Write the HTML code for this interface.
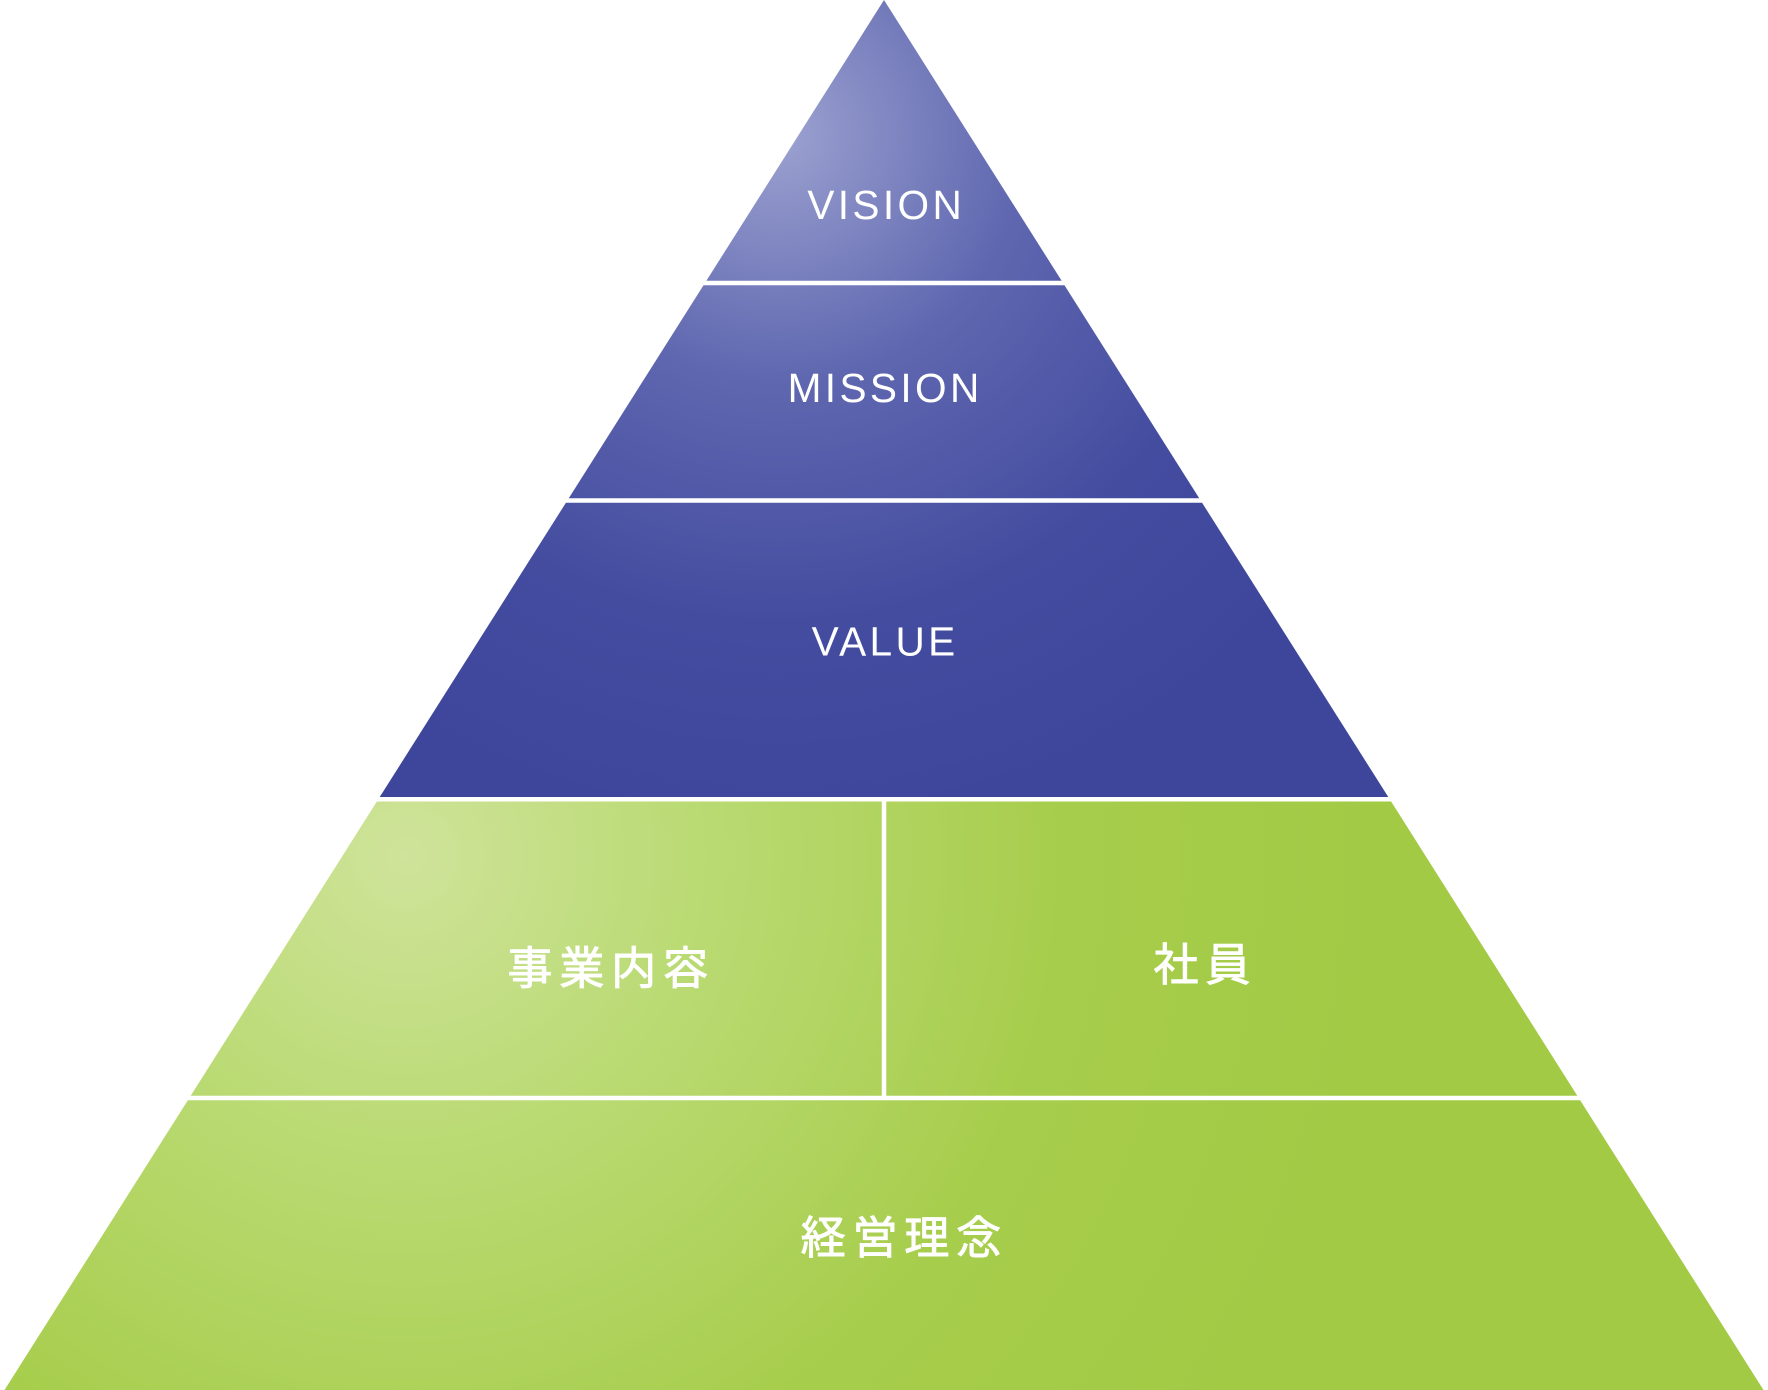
<!DOCTYPE html>
<html><head><meta charset="utf-8"><style>
html,body{margin:0;padding:0;background:#fff;}
svg{display:block;}
text{font-family:"Liberation Sans","Noto Sans CJK JP",sans-serif;fill:#fff;text-anchor:middle;dominant-baseline:central;}
.jp{stroke:#fff;stroke-width:0.8;}
</style></head><body>
<svg width="1768" height="1390" viewBox="0 0 1568 1233" preserveAspectRatio="none" xmlns="http://www.w3.org/2000/svg">
<defs>
<radialGradient id="gb" cx="690" cy="120" r="620" gradientUnits="userSpaceOnUse">
<stop offset="0" stop-color="#9ca2d0"/>
<stop offset="0.35" stop-color="#5f67b0"/>
<stop offset="0.7" stop-color="#444ca0"/>
<stop offset="1" stop-color="#3d469b"/>
</radialGradient>
<radialGradient id="gg" cx="360" cy="760" r="900" gradientUnits="userSpaceOnUse">
<stop offset="0" stop-color="#cfe39a"/>
<stop offset="0.3" stop-color="#b9da72"/>
<stop offset="0.65" stop-color="#a7cd4c"/>
<stop offset="1" stop-color="#a2ca44"/>
</radialGradient>
</defs>
<polygon points="784,0 1232.5,709 335.5,709" fill="url(#gb)"/>
<polygon points="335.5,709 1232.5,709 1564,1233 4,1233" fill="url(#gg)"/>
<g stroke="#fff" stroke-width="4">
<line x1="0" y1="251" x2="1568" y2="251"/>
<line x1="0" y1="444" x2="1568" y2="444"/>
<line x1="0" y1="709" x2="1568" y2="709"/>
<line x1="0" y1="974" x2="1568" y2="974"/>
<line x1="784" y1="709" x2="784" y2="974"/>
</g>
<text x="786" y="182" font-size="36" letter-spacing="3">VISION</text>
<text x="785" y="344" font-size="36" letter-spacing="3">MISSION</text>
<text x="785" y="569" font-size="36" letter-spacing="3">VALUE</text>
<text class="jp" x="542" y="859" font-size="40" letter-spacing="6">事業内容</text>
<text class="jp" x="1069" y="856" font-size="40" letter-spacing="6">社員</text>
<text class="jp" x="802" y="1098" font-size="40" letter-spacing="6">経営理念</text>
</svg>
</body></html>
